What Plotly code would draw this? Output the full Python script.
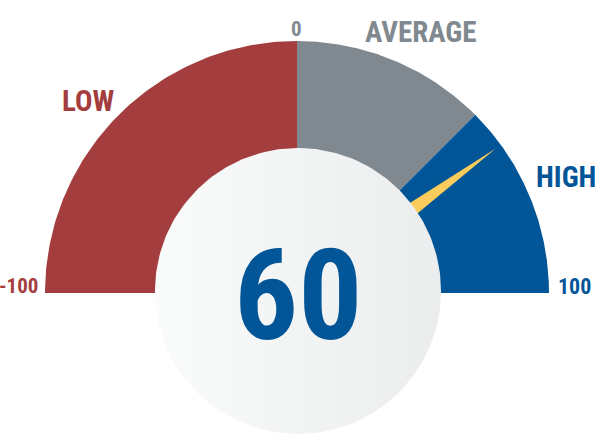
import numpy as np
import plotly.graph_objects as go

# gauge data
seg_edges = [-100, 0, 50, 100]
seg_names = ["LOW", "AVERAGE", "HIGH"]
seg_colors = ["#A43D3E", "#7F898F", "#025596"]
tick_vals = [-100, 0, 100]
tick_labels = ["-100", "0", "100"]
score = 60

W, H = 595, 437
CX, CY, RPX = 297, 293, 252   # gauge centre / radius in pixels


def px(xp, yp):
    # pixel position -> data coords (centre = 0,0 ; radius = 1)
    return (xp - CX) / RPX, (CY - yp) / RPX


def ang(v):
    # -100 -> 180 deg, 100 -> 0 deg
    return np.radians(90 - v * 0.9)


fig = go.Figure()

# coloured wedges
for lo, hi, name, col in zip(seg_edges[:-1], seg_edges[1:], seg_names, seg_colors):
    t = np.linspace(ang(lo), ang(hi), 120)
    xs = np.concatenate([[0], np.cos(t), [0]])
    ys = np.concatenate([[0], np.sin(t), [0]])
    fig.add_trace(go.Scatter(x=xs, y=ys, fill="toself", mode="lines",
                             line=dict(width=0, color=col), fillcolor=col,
                             hoverinfo="skip", name=name))

# needle
a = ang(score)
half_w = 0.062
tip = 0.975
nx = [tip * np.cos(a), half_w * np.cos(a + np.pi / 2), half_w * np.cos(a - np.pi / 2), tip * np.cos(a)]
ny = [tip * np.sin(a), half_w * np.sin(a + np.pi / 2), half_w * np.sin(a - np.pi / 2), tip * np.sin(a)]
fig.add_trace(go.Scatter(x=nx, y=ny, fill="toself", mode="lines",
                         line=dict(width=0, color="#F9CC5C"), fillcolor="#F9CC5C",
                         hoverinfo="skip"))

# centre disc
ccx, ccy = px(298, 291)
cr = 143 / RPX
t = np.linspace(0, 2 * np.pi, 240)
fig.add_trace(go.Scatter(x=ccx + cr * np.cos(t), y=ccy + cr * np.sin(t),
                         fill="toself", mode="lines", line=dict(width=0, color="#F3F4F4"),
                         fillgradient=dict(type="horizontal",
                                           colorscale=[[0, "#FAFBFB"], [1, "#EBECED"]]),
                         hoverinfo="skip"))

FONT = "Liberation Sans Narrow, Roboto Condensed, Roboto, sans-serif"


def label(txt, xp, yp, size, col, xanchor="center"):
    x, y = px(xp, yp)
    fig.add_annotation(x=x, y=y, text="<b>%s</b>" % txt, showarrow=False,
                       xanchor=xanchor, yanchor="middle",
                       font=dict(family=FONT, size=size, color=col))


# tick labels
label(tick_labels[0], 40, 286, 21, seg_colors[0], "right")
label(tick_labels[1], 296, 29, 21, seg_colors[1])
label(tick_labels[2], 556, 286, 22, seg_colors[2], "left")

# segment labels
label(seg_names[0], 88, 101, 29, seg_colors[0])
label(seg_names[1], 420, 32, 29, seg_colors[1])
label(seg_names[2], 534, 177, 29, seg_colors[2], "left")

# score
label(str(score), 298, 295, 127, seg_colors[2])

x0, _ = px(0, 0)
x1, _ = px(W, 0)
_, y0 = px(0, H)
_, y1 = px(0, 0)
fig.update_xaxes(range=[x0, x1], visible=False, fixedrange=True)
fig.update_yaxes(range=[y0, y1], visible=False, fixedrange=True)
fig.update_layout(width=W, height=H, margin=dict(l=0, r=0, t=0, b=0),
                  paper_bgcolor="white", plot_bgcolor="white", showlegend=False)

# drop the browser's default body margin so the figure fills the window
fig.write_html("out.html", config={"displayModeBar": False},
               post_script="document.body.style.margin='0';document.body.style.overflow='hidden';")
